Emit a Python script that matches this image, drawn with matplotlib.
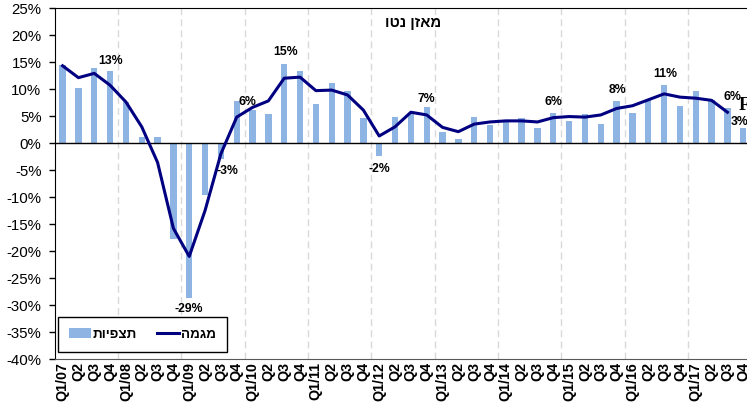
import matplotlib
matplotlib.use("Agg")
import matplotlib.pyplot as plt
import numpy as np

plt.rcParams['font.family'] = ['Liberation Sans', 'DejaVu Sans']

# quarters Q1/07 .. Q4/17
years = ['07', '08', '09', '10', '11', '12', '13', '14', '15', '16', '17']
labels = []
for y in years:
    labels += ['Q1/' + y, 'Q2', 'Q3', 'Q4']

# observations (bars), percent
obs = [14.4, 10.1, 13.8, 13.3,
       7.6, 1.2, 1.2, -17.8,
       -28.7, -9.6, -3.0, 7.8,
       6.1, 5.4, 14.6, 13.3,
       7.2, 11.2, 9.7, 4.6,
       -2.4, 4.9, 5.5, 6.6,
       2.0, 0.7, 4.9, 3.3,
       4.1, 4.7, 2.8, 5.6,
       4.1, 5.4, 3.6, 7.8,
       5.6, 8.0, 10.7, 6.9,
       9.7, 7.9, 6.4, 2.8]

# trend (line), percent - ends at Q3/17
trend = [14.3, 12.1, 12.9, 10.7,
         7.6, 3.0, -3.6, -15.8,
         -21.0, -12.5, -2.0, 4.8,
         6.6, 7.8, 12.0, 12.2,
         9.7, 9.8, 8.9, 6.1,
         1.3, 3.0, 5.7, 5.2,
         2.9, 2.1, 3.5, 3.9,
         4.1, 4.1, 3.9, 4.7,
         4.9, 4.8, 5.2, 6.4,
         6.9, 8.0, 9.1, 8.5,
         8.3, 7.9, 5.7]

# which bars get a value label, and offset in pixels (dx, dy)
labelled = [(3, 0, 10), (8, 0, -11), (10, 7, -12), (12, -5, 8), (14, 1, 12),
            (20, 0, -13), (23, 0, 8), (31, 0, 11), (35, 1, 11), (38, 1, 11),
            (42, 5, 11), (43, -4, 6)]

title = 'מאזן נטו'
obs_name = 'תצפיות'
trend_name = 'מגמה'


def heb(s):
    # matplotlib has no bidi support, so flip for display
    return s[::-1]


fig = plt.figure(figsize=(7.47, 4.09), dpi=100)
ax = fig.add_axes([0.0732, 0.1222, 0.9324, 0.8582])

x = np.arange(len(labels))
bars = ax.bar(x, obs, 0.4, color='#8DB4E2', zorder=2)
line, = ax.plot(np.arange(len(trend)), trend, color='#000080', lw=2.2, zorder=3)

ax.axhline(0, color='black', lw=1, zorder=2.5)

for i, dx, dy in labelled:
    v = obs[i]
    ax.annotate(f'{int(np.round(v))}%', xy=(i, v), xytext=(dx, dy),
                textcoords='offset pixels', ha='center', va='center',
                fontsize=8.8, fontweight='bold', zorder=4)

ax.set_xlim(-0.5, len(labels) - 0.5)
ax.set_ylim(-40, 25)
ax.set_yticks(np.arange(-40, 26, 5))
ax.set_yticklabels([f'{t}%' for t in range(-40, 26, 5)], fontsize=10.8)
ax.tick_params(axis='y', direction='out', length=4, width=1, pad=5.5)

ax.set_xticks(x)
ax.set_xticklabels(labels, rotation=90, fontsize=10.3, fontweight='bold')
ax.tick_params(axis='x', length=0, pad=2)
ax.set_xticks(np.arange(3.5, len(labels) - 1, 4), minor=True)
ax.tick_params(axis='x', which='minor', length=0)
ax.grid(which='minor', axis='x', color='#D9D9D9', linestyle=(0, (5, 3)), lw=1)
ax.set_axisbelow(True)

for s in ['left', 'top', 'right']:
    ax.spines[s].set_color('black')
ax.spines['bottom'].set_color('#595959')

ax.text(0.514, 0.957, heb(title), transform=ax.transAxes, ha='center',
        va='center', fontsize=10.7, fontweight='bold')

leg = ax.legend([bars, line], [heb(obs_name), heb(trend_name)],
                loc='lower left', bbox_to_anchor=(0.005, 0.02), borderaxespad=0,
                ncol=2, prop={'weight': 'bold', 'size': 9.6},
                handlelength=1.6, handletextpad=0.15, columnspacing=1.5,
                borderpad=0.85, fancybox=False, framealpha=1)
leg.get_frame().set_edgecolor('black')
leg.get_frame().set_linewidth(1)

fig.text(739 / 747, 1 - 106 / 409, 'F', ha='left', va='center',
         family='Liberation Serif', fontweight='bold', fontsize=13)

fig.savefig('out.png', dpi=100)
